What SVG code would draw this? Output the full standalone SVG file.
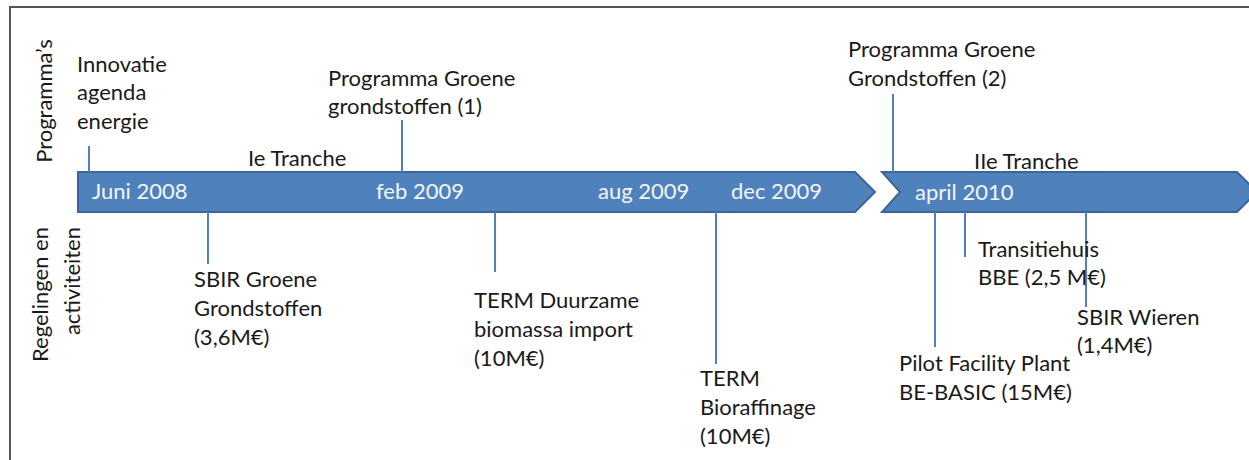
<svg xmlns="http://www.w3.org/2000/svg" width="1249" height="460" viewBox="0 0 1249 460">
<style>
.t{font-family:Lato,"Open Sans","DejaVu Sans",sans-serif;font-size:22px;fill:#1a1a1a}
.w{font-family:Lato,"Open Sans","DejaVu Sans",sans-serif;font-size:22px;fill:#f4f6fa}
.tick{stroke:#4F81BD;stroke-width:2;fill:none}
.arrow{fill:#4F81BD;stroke:#3A6698;stroke-width:2;stroke-linejoin:miter}
</style>
<rect x="0" y="0" width="1249" height="460" fill="#ffffff"/>
<rect id="frame" x="10" y="7" width="1270" height="480" fill="none" stroke="#555555" stroke-width="2"/>
<g id="side-labels">
<text class="t" transform="translate(52,101) rotate(-90)" text-anchor="middle">Programma’s</text>
<text class="t" transform="translate(48,227) rotate(-90)" text-anchor="end">Regelingen en</text>
<text class="t" transform="translate(80,227) rotate(-90)" text-anchor="end">activiteiten</text>
</g>
<g id="timeline1">
<polygon class="arrow" points="78,172 855,172 875,192 855,212 78,212"/>
<text class="w" x="92" y="199">Juni 2008</text>
<text class="w" x="376" y="199">feb 2009</text>
<text class="w" x="598" y="199">aug 2009</text>
<text class="w" x="731" y="199">dec 2009</text>
</g>
<g id="timeline2">
<polygon class="arrow" points="882,172 1237,172 1257,192 1237,212 882,212 900,192"/>
<text class="w" x="915" y="200">april 2010</text>
</g>
<g id="connectors">
<line class="tick" x1="89" y1="146" x2="89" y2="172"/>
<line class="tick" x1="402" y1="120" x2="402" y2="172"/>
<line class="tick" x1="893" y1="94" x2="893" y2="172"/>
<line class="tick" x1="208" y1="212" x2="208" y2="264"/>
<line class="tick" x1="495" y1="212" x2="495" y2="272"/>
<line class="tick" x1="716" y1="212" x2="716" y2="364"/>
<line class="tick" x1="935" y1="212" x2="935" y2="347"/>
<line class="tick" x1="965" y1="212" x2="965" y2="257"/>
<line class="tick" x1="1086" y1="212" x2="1086" y2="307"/>
</g>
<g id="innovatie"><text class="t" x="77" y="72">Innovatie</text><text class="t" x="77" y="100">agenda</text><text class="t" x="77" y="129">energie</text></g>
<g id="programma1"><text class="t" x="328" y="86">Programma Groene</text><text class="t" x="328" y="114">grondstoffen (1)</text></g>
<g id="tranche1"><text class="t" x="248" y="166">Ie Tranche</text></g>
<g id="programma2"><text class="t" x="848" y="57">Programma Groene</text><text class="t" x="848" y="86">Grondstoffen (2)</text></g>
<g id="tranche2"><text class="t" x="974" y="169">IIe Tranche</text></g>
<g id="sbir-groene"><text class="t" x="194" y="287">SBIR Groene</text><text class="t" x="194" y="316">Grondstoffen</text><text class="t" x="194" y="345">(3,6M€)</text></g>
<g id="term-duurzame"><text class="t" x="474" y="308">TERM Duurzame</text><text class="t" x="474" y="337">biomassa import</text><text class="t" x="474" y="366">(10M€)</text></g>
<g id="term-bio"><text class="t" x="700" y="386">TERM</text><text class="t" x="700" y="415">Bioraffinage</text><text class="t" x="700" y="444">(10M€)</text></g>
<g id="transitiehuis"><text class="t" x="978" y="257">Transitiehuis</text><text class="t" x="978" y="285">BBE (2,5 M€)</text></g>
<g id="sbir-wieren"><text class="t" x="1077" y="325">SBIR Wieren</text><text class="t" x="1077" y="353">(1,4M€)</text></g>
<g id="pilot"><text class="t" x="899" y="371">Pilot Facility Plant</text><text class="t" x="899" y="400">BE-BASIC (15M€)</text></g>
</svg>
